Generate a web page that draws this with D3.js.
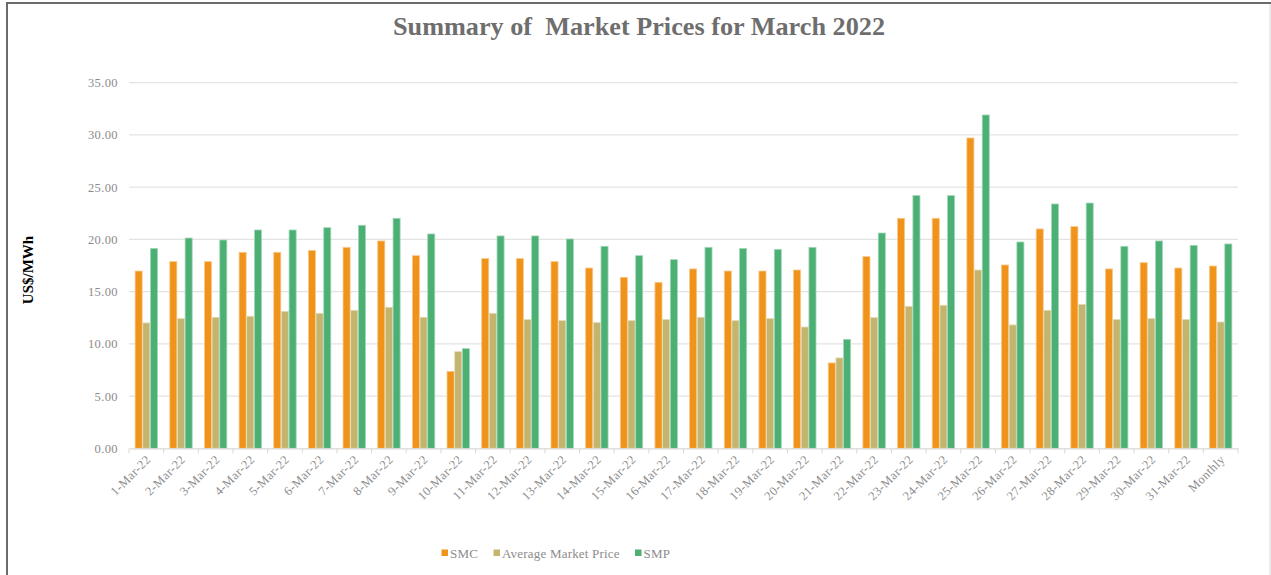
<!DOCTYPE html>
<html>
<head>
<meta charset="utf-8">
<script src="https://cdn.jsdelivr.net/npm/d3@7"></script>
<style>
  html, body { margin: 0; padding: 0; background: #fff; }
  svg { display: block; }
</style>
</head>
<body>
<svg id="chart" width="1271" height="575"></svg>
<script>
const categories = ["1-Mar-22","2-Mar-22","3-Mar-22","4-Mar-22","5-Mar-22","6-Mar-22","7-Mar-22","8-Mar-22","9-Mar-22","10-Mar-22","11-Mar-22","12-Mar-22","13-Mar-22","14-Mar-22","15-Mar-22","16-Mar-22","17-Mar-22","18-Mar-22","19-Mar-22","20-Mar-22","21-Mar-22","22-Mar-22","23-Mar-22","24-Mar-22","25-Mar-22","26-Mar-22","27-Mar-22","28-Mar-22","29-Mar-22","30-Mar-22","31-Mar-22","Monthly"];
const smc = [16.97,17.87,17.87,18.76,18.76,18.95,19.24,19.85,18.44,7.37,18.16,18.16,17.87,17.26,16.37,15.89,17.17,16.97,16.97,17.07,8.17,18.35,22.02,22.02,29.71,17.55,21.00,21.22,17.17,17.77,17.26,17.45];
const avgPrice = [12.00,12.41,12.54,12.64,13.11,12.92,13.21,13.50,12.54,9.25,12.92,12.32,12.22,12.03,12.22,12.32,12.54,12.22,12.41,11.61,8.65,12.51,13.59,13.69,17.07,11.81,13.21,13.78,12.32,12.41,12.32,12.09];
const smp = [19.14,20.13,19.94,20.90,20.90,21.12,21.35,22.02,20.52,9.54,20.33,20.33,20.04,19.34,18.44,18.06,19.24,19.14,19.05,19.24,10.43,20.61,24.19,24.19,31.91,19.75,23.39,23.48,19.34,19.85,19.43,19.56];
const seriesNames = ["SMC","Average Market Price","SMP"];
const yTicks = [0,5,10,15,20,25,30,35];
const colors = ["#F0931A","#C3B56E","#4CAF73"];
const strokes = ["#F8C98C","#E1DAB6","#A5D7B9"];

(function(){
const svg = d3.select("#chart");
const W = 1271, H = 575;
const serif = "'Liberation Serif','DejaVu Serif',serif";

// frame
svg.append("rect").attr("x",0).attr("y",0).attr("width",W).attr("height",H).attr("fill","#fff");
svg.append("line").attr("x1",7).attr("x2",7).attr("y1",2).attr("y2",H).attr("stroke","#6b6b6b").attr("stroke-width",2);
svg.append("line").attr("x1",6).attr("x2",W).attr("y1",3).attr("y2",3).attr("stroke","#6b6b6b").attr("stroke-width",2);
svg.append("line").attr("x1",1270).attr("x2",1270).attr("y1",4).attr("y2",H).attr("stroke","#d9d9d9").attr("stroke-width",1);

const pLeft = 129, pRight = 1238, pTop = 82.7, pBottom = 448.3;

const y = d3.scaleLinear().domain([0,35]).range([pBottom, pTop]);
const x0 = d3.scaleBand().domain(categories).range([pLeft, pRight]).padding(0);
const bw = x0.bandwidth();
const x1 = d3.scaleBand().domain(seriesNames).range([bw*0.168, bw*0.832]).padding(0);

// gridlines
svg.append("g").selectAll("line").data(yTicks.filter(d => d > 0)).join("line")
  .attr("x1", pLeft).attr("x2", pRight)
  .attr("y1", d => y(d)).attr("y2", d => y(d))
  .attr("stroke","#e3e3e3").attr("stroke-width",1.2);

// y axis labels
const yAxis = d3.axisLeft(y).tickValues(yTicks).tickFormat(d3.format(".2f")).tickSize(0).tickPadding(11);
const gy = svg.append("g").attr("transform",`translate(${pLeft},0)`).call(yAxis);
gy.select(".domain").remove();
gy.selectAll("text").attr("font-family",serif).attr("font-size",12.5)
  .attr("letter-spacing","0.4px").attr("fill","#8c8c8c");

// bars
const data = categories.map((c,i) => ({cat:c, vals:[smc[i],avgPrice[i],smp[i]]}));
const groups = svg.append("g").selectAll("g").data(data).join("g")
  .attr("transform", d => `translate(${x0(d.cat)},0)`);
groups.selectAll("rect").data(d => d.vals.map((v,j) => ({name:seriesNames[j], v, j}))).join("rect")
  .attr("x", d => x1(d.name)+0.3)
  .attr("width", x1.bandwidth()-0.6)
  .attr("y", d => y(d.v))
  .attr("height", d => y(0) - y(d.v))
  .attr("fill", d => colors[d.j])
  .attr("stroke", d => strokes[d.j])
  .attr("stroke-width", 0.8);

// x axis
const xAxis = d3.axisBottom(x0).tickSize(0).tickFormat("");
const gx = svg.append("g").attr("transform",`translate(0,${pBottom})`).call(xAxis);
gx.select(".domain").attr("stroke","#d9d9d9").attr("stroke-width",1.3);
svg.append("g").selectAll("line").data(d3.range(categories.length+1)).join("line")
  .attr("x1", i => pLeft + i*bw).attr("x2", i => pLeft + i*bw)
  .attr("y1", pBottom).attr("y2", pBottom+5)
  .attr("stroke","#d9d9d9").attr("stroke-width",1);

// x labels rotated
svg.append("g").selectAll("text").data(categories).join("text")
  .attr("transform", d => `translate(${x0(d)+bw/2+2},${pBottom+9}) rotate(-45)`)
  .attr("text-anchor","end")
  .attr("dy","0.35em")
  .attr("font-family",serif).attr("font-size",12.5).attr("letter-spacing","0.4px")
  .attr("fill","#8c8c8c")
  .text(d => d);

// title
svg.append("text").attr("x",639).attr("y",35).attr("text-anchor","middle")
  .attr("font-family",serif).attr("font-weight","bold").attr("font-size",24.5)
  .attr("textLength",492).attr("lengthAdjust","spacingAndGlyphs")
  .attr("fill","#6e6e6e").style("white-space","pre")
  .text("Summary of  Market Prices for March 2022");

// y axis title
svg.append("text").attr("transform","translate(33,270) rotate(-90)")
  .attr("text-anchor","middle")
  .attr("font-family",serif).attr("font-weight","bold").attr("font-size",15)
  .attr("fill","#000").text("US$/MWh");

// legend
const legendX = [441.5, 493.5, 635];
const lg = svg.append("g").selectAll("g").data(seriesNames).join("g")
  .attr("transform",(d,i) => `translate(${legendX[i]},553)`);
lg.append("rect").attr("x",0).attr("y",-3.5).attr("width",6.5).attr("height",6.5)
  .attr("fill",(d,i) => colors[i]);
lg.append("text").attr("x",8.5).attr("y",0).attr("dy","0.35em")
  .attr("font-family",serif).attr("font-size",13).attr("letter-spacing","0.2px")
  .attr("fill","#8c8c8c").text(d => d);
})();
</script>
</body>
</html>
